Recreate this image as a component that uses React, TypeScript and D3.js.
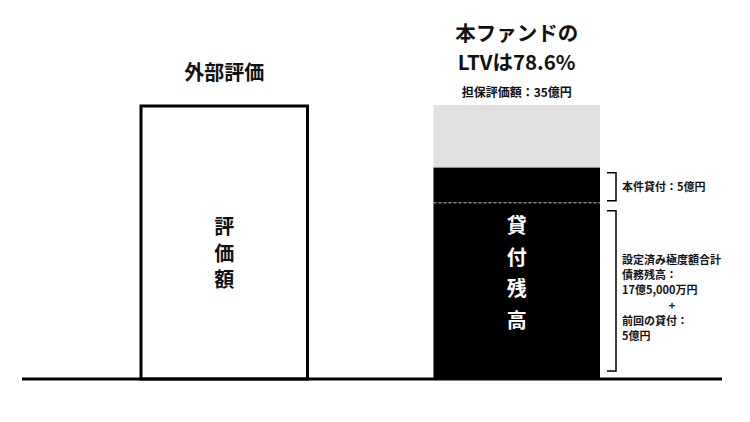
import React from 'react';
import * as d3 from 'd3';

const categories = ['外部評価', '本ファンド'];
const appraisalValue = 35; // 億円
const loanSegmentNames = ['既存貸付残高', '本件貸付'];
const loanSegmentValues = [22.5, 4.5];
const leftInnerLabel = ['評', '価', '額'];
const rightInnerLabel = ['貸', '付', '残', '高'];
const titleLines = ['本ファンドの', 'LTVは78.6%'];
const appraisalLabel = '担保評価額：35億円';
const newLoanLabel = '本件貸付：5億円';
const existingLabelLines = ['設定済み極度額合計', '債務残高：', '17億5,000万円', '+', '前回の貸付：', '5億円'];

const W = 750;
const H = 422;
const FONT = '"Noto Sans CJK JP", "Noto Sans", sans-serif';

export default function App() {
  const y = d3.scaleLinear().domain([0, appraisalValue]).range([379, 105]);
  const x = d3.scaleBand<string>().domain(categories).range([141, 600]).paddingInner(0.4308).paddingOuter(0);
  const bw = x.bandwidth();
  const lx = x(categories[0])!;
  const rx = x(categories[1])!;
  const lc = lx + bw / 2;
  const rc = rx + bw / 2;

  const stack = d3.cumsum(loanSegmentValues);
  const segs = loanSegmentValues.map((v, i) => ({ name: loanSegmentNames[i], y0: stack[i] - v, y1: stack[i] }));
  const loanTop = stack[stack.length - 1];
  const dashVal = segs[0].y1;

  const bx = 616;
  const bracket = (t: number, b: number) => `M${bx - 9},${t}H${bx}V${b}H${bx - 9}`;
  const b1t = y(loanTop) + 5;
  const b1b = y(dashVal) - 2;
  const b2t = y(dashVal) + 8;
  const b2b = y(0) - 8;

  return (
    <svg width={W} height={H} style={{ position: 'absolute', left: 0, top: 0, background: '#fff' }} fontFamily={FONT}>
      {/* appraisal gray */}
      <rect x={rx} y={y(appraisalValue)} width={bw} height={y(0) - y(appraisalValue)} fill="#e0e0e0" />
      {segs.map((s) => (
        <rect key={s.name} x={rx} y={y(s.y1)} width={bw} height={y(s.y0) - y(s.y1)} fill="#000" />
      ))}
      <line x1={rx} x2={rx + bw} y1={y(dashVal)} y2={y(dashVal)} stroke="#bbb" strokeWidth={1} strokeDasharray="3,2" />

      {/* left box */}
      <rect x={lx} y={y(appraisalValue) + 1} width={bw} height={y(0) - y(appraisalValue) - 1} fill="#fff" stroke="#000" strokeWidth={3} />

      {/* baseline */}
      <line x1={22} x2={722} y1={y(0)} y2={y(0)} stroke="#000" strokeWidth={3} />

      {/* titles */}
      <text x={lc} y={80} textAnchor="middle" fontSize={20} fontWeight={700} fill="#111">{categories[0]}</text>
      {titleLines.map((t, i) => (
        <text key={t} x={rc} y={41 + i * 29} textAnchor="middle" fontSize={20.5} fontWeight={700} fill="#111">{t}</text>
      ))}
      <text x={rc} y={97} textAnchor="middle" fontSize={12} fontWeight={700} fill="#111">{appraisalLabel}</text>

      {/* inner labels */}
      {leftInnerLabel.map((c, i) => (
        <text key={c} x={lc} y={234 + i * 26.5} textAnchor="middle" fontSize={20} fontWeight={700} fill="#111">{c}</text>
      ))}
      {rightInnerLabel.map((c, i) => (
        <text key={c} x={rc} y={233 + i * 31.5} textAnchor="middle" fontSize={20} fontWeight={700} fill="#fff">{c}</text>
      ))}

      {/* brackets */}
      <path d={bracket(b1t, b1b)} fill="none" stroke="#000" strokeWidth={1.5} />
      <path d={bracket(b2t, b2b)} fill="none" stroke="#000" strokeWidth={1.5} />
      <text x={622} y={(b1t + b1b) / 2 + 4} fontSize={11} fontWeight={700} fill="#111">{newLoanLabel}</text>
      {existingLabelLines.map((t, i) => (
        <text key={i} x={t === '+' ? 672 : 622} y={264 + i * 15.2} textAnchor={t === '+' ? 'middle' : 'start'} fontSize={11} fontWeight={700} fill="#111">{t}</text>
      ))}
    </svg>
  );
}
